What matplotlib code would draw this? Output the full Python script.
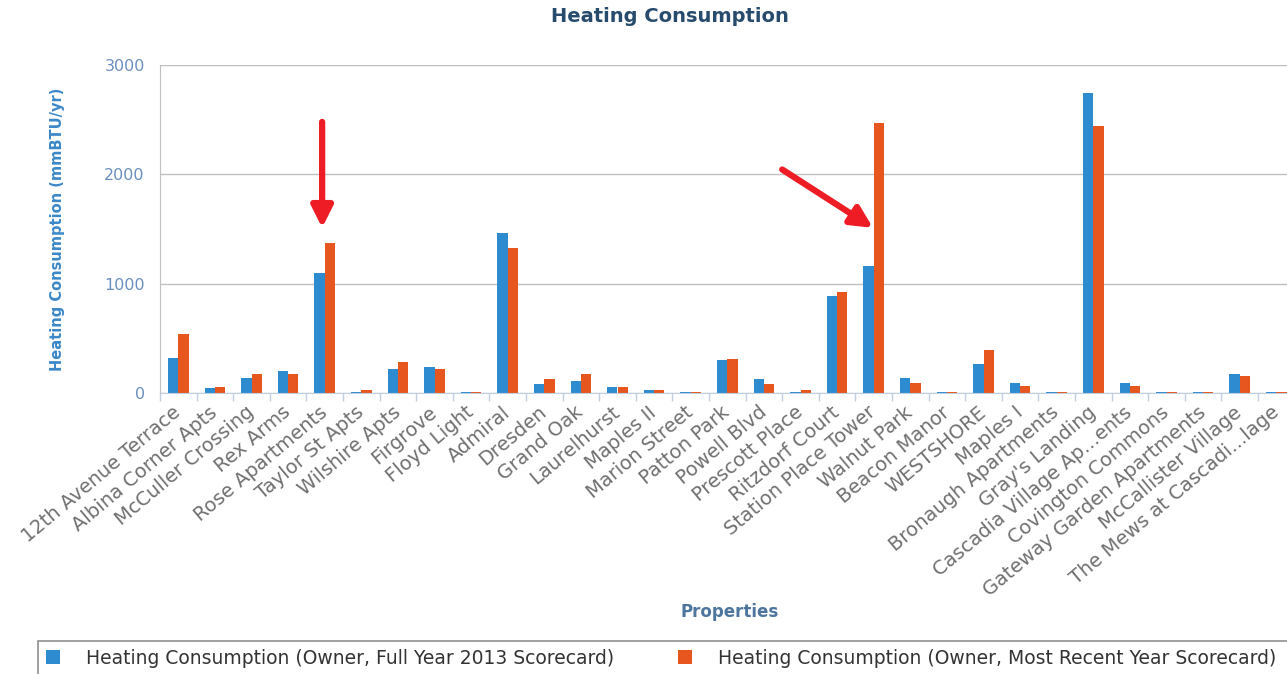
import matplotlib
matplotlib.use("Agg")
import matplotlib.pyplot as plt
import numpy as np
from matplotlib.patches import Rectangle
from matplotlib.ticker import FixedLocator

properties = [
    "12th Avenue Terrace", "Albina Corner Apts", "McCuller Crossing", "Rex Arms",
    "Rose Apartments", "Taylor St Apts", "Wilshire Apts", "Firgrove", "Floyd Light",
    "Admiral", "Dresden", "Grand Oak", "Laurelhurst", "Maples II", "Marion Street",
    "Patton Park", "Powell Blvd", "Prescott Place", "Ritzdorf Court",
    "Station Place Tower", "Walnut Park", "Beacon Manor", "WESTSHORE", "Maples I",
    "Bronaugh Apartments", "Gray's Landing", "Cascadia Village Ap...ents",
    "Covington Commons", "Gateway Garden Apartments", "McCallister Village",
    "The Mews at Cascadi...lage",
]
# mmBTU/yr
full_year_2013 = [320, 46, 143, 207, 1098, 15, 222, 238, 15, 1467,
                  82, 113, 60, 30, 15, 302, 128, 15, 893, 1165,
                  140, 13, 271, 94, 13, 2745, 94, 13, 13, 174, 13]
most_recent = [543, 60, 177, 177, 1372, 30, 287, 222, 15, 1327,
               128, 177, 60, 30, 15, 317, 82, 30, 924, 2470,
               94, 13, 396, 64, 13, 2439, 64, 13, 13, 158, 13]

BLUE = "#2e8bd0"
ORANGE = "#e8561f"
RED = "#ee1c25"

W, H = 1287, 674
fig = plt.figure(figsize=(W / 100, H / 100), dpi=100)
ax = fig.add_axes([160 / W, (H - 393.3) / H, 31 * 36.6 / W, 328.3 / H])

x = np.arange(len(properties))
bw = 0.28
ax.bar(x - bw / 2, full_year_2013, bw, color=BLUE,
       label="Heating Consumption (Owner, Full Year 2013 Scorecard)")
ax.bar(x + bw / 2, most_recent, bw, color=ORANGE,
       label="Heating Consumption (Owner, Most Recent Year Scorecard)")

ax.set_xlim(-0.5, len(properties) - 0.5)
ax.set_ylim(0, 3000)
ax.set_yticks([0, 1000, 2000, 3000])
ax.yaxis.grid(True, color="#c0c0c0", lw=1)
ax.set_axisbelow(True)
ax.tick_params(axis="y", length=0, pad=11, labelsize=11.5, labelcolor="#6a8fbf")

ax.set_xticks(x)
ax.set_xticklabels(properties, rotation=40, ha="right", va="center",
                   rotation_mode="anchor", fontsize=14, color="#707070")
ax.xaxis.set_minor_locator(FixedLocator(np.arange(-0.5, len(properties), 1.0)))
ax.tick_params(axis="x", which="major", length=0, pad=12)
ax.tick_params(axis="x", which="minor", length=6, color="#c0d0e0", width=1)

for side in ["top", "right"]:
    ax.spines[side].set_visible(False)
ax.spines["left"].set_color("#c0c0c0")
ax.spines["bottom"].set_color("#c0d0e0")

ax.set_ylabel("Heating Consumption (mmBTU/yr)", fontsize=10.5, fontweight="bold",
              color="#3b88c8")
ax.yaxis.set_label_coords(-0.084, 0.5)
fig.text(730 / W, 1 - 612 / H, "Properties", ha="center", va="center",
         fontsize=12, fontweight="bold", color="#4d759e")
fig.text(670 / W, 1 - 17 / H, "Heating Consumption", ha="center", va="center",
         fontsize=14, fontweight="bold", color="#274b6d")

# red call-out arrows
rose = properties.index("Rose Apartments")
station = properties.index("Station Place Tower")
arrow = dict(arrowstyle="-|>", color=RED, lw=4.5, mutation_scale=32,
             shrinkA=0, shrinkB=0)
ax.annotate("", xy=(rose - 0.07, most_recent[rose] + 140),
            xytext=(rose - 0.07, 2480), arrowprops=arrow)
ax.annotate("", xy=(station - 0.02, 1512),
            xytext=(station - 2.5, 2045), arrowprops=arrow)

# legend box runs past the right edge
fig.patches.append(Rectangle((38 / W, -0.05), 1.1, 0.05 + (H - 641) / H,
                             transform=fig.transFigure, fill=False,
                             edgecolor="#909090", lw=1.2))
fig.legend(loc="center left", bbox_to_anchor=(29 / W, 1 - 658 / H), ncol=2,
           fontsize=13.5, handlelength=0.75, handleheight=0.75, handletextpad=1.4,
           columnspacing=3.4, frameon=False, labelcolor="#333333")

fig.savefig("out.png", dpi=100)
